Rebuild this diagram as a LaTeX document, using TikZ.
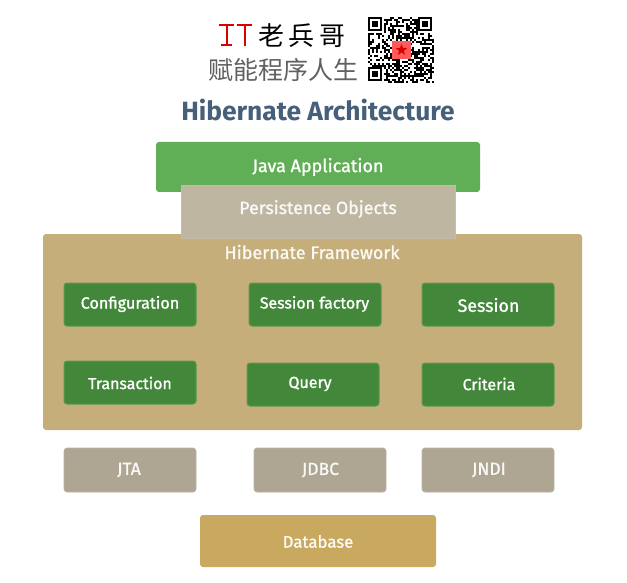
\documentclass[tikz,border=0pt]{standalone}
\usepackage{fontspec}
\usetikzlibrary{shapes.geometric}
\setmainfont{Fira Sans}
\newfontfamily\cjk{Noto Sans CJK SC}
\newfontfamily\lblf[FakeBold=1.2]{Fira Sans}
\definecolor{appgreen}{HTML}{60AE55}
\definecolor{persist}{HTML}{BFB6A1}
\definecolor{frame}{HTML}{C5AE7A}
\definecolor{inner}{HTML}{42873A}
\definecolor{innerb}{HTML}{5B9A4E}
\definecolor{lib}{HTML}{AEA693}
\definecolor{dbc}{HTML}{C9A85F}
\definecolor{titlec}{HTML}{47607A}
\newcommand{\fs}[1]{\lblf\fontsize{#1}{20}\selectfont}
\tikzset{
 px/.style={x=1pt,y=-1pt},
 lbl/.style={text=white},
 comp/.style={fill=inner,draw=innerb,line width=1pt,rounded corners=3pt},
 libbox/.style={fill=lib,draw=lib!85!white,line width=.6pt,rounded corners=3pt},
}
\begin{document}
\begin{tikzpicture}[px]
\useasboundingbox (0,0) rectangle (627,583);
\fill[white] (0,0) rectangle (627,583);
% header
\draw[red!85!black,line width=2pt] (219,25.5)--(234,25.5) (221,45.5)--(232,45.5) (226.5,25.5)--(226.5,45.5) (237,25.5)--(252,25.5) (244.5,25.5)--(244.5,46);
\node[inner sep=0pt,font=\cjk\fontsize{26}{27}\selectfont,text=black] (brand) at (302,36) {老\hspace{5pt}兵\hspace{5pt}哥};
\node[inner sep=0pt,font=\cjk\fontsize{25}{27}\selectfont,text=black!62] (slogan) at (283,70) {赋能程序人生};
% QR
\begin{scope}[shift={(368,17)}]
\pgfmathsetseed{4242}
\foreach \i in {0,...,32}{\foreach \j in {0,...,32}{
  \pgfmathparse{rnd<0.52?1:0}
  \ifnum\pgfmathresult=1 \fill[black] (\i*2,\j*2) rectangle ++(2,2);\fi
}}
\foreach \a/\b in {0/0,50/0,0/50}{
 \fill[white] (\a,\b) rectangle ++(16,16);
 \fill[black] (\a,\b) rectangle ++(14,14);
 \fill[white] (\a+2,\b+2) rectangle ++(10,10);
 \fill[black] (\a+4,\b+4) rectangle ++(6,6);
}
\fill[red!65!white] (24,24) rectangle (43,42);
\node[star,star points=5,star point ratio=2.4,fill=red!85!black,inner sep=0pt,minimum size=12pt] (qrstar) at (33.5,33) {};
\end{scope}
% title
\node[inner sep=0pt,font=\bfseries\fontsize{26.4}{30}\selectfont,text=titlec] (title) at (318,110) {Hibernate Architecture};
% java
\path[fill=appgreen,rounded corners=3pt] (156,142) rectangle (480,192);
\node[lbl,font=\fs{18}] (java) at (318,167) {Java Application};
% framework
\path[fill=frame,rounded corners=3pt] (43,234) rectangle (582,430);
\path[fill=persist,draw=persist!90!white,line width=.5pt] (181.5,185) rectangle (455,238);
\node[lbl,font=\fs{17.8},text=white!92!persist] (persistence) at (318,209) {Persistence Objects};
\node[lbl,font=\fs{18},text=white!92!frame] (framework) at (312,252) {Hibernate Framework};
% components
\foreach \n/\x/\y/\a/\b/\c/\d/\t/\s in {
 cfg/130/304/64/283/196/326/Configuration/16.2,
 fac/314.5/304/249/283/381/326/Session factory/15.9,
 ses/488.5/305/422/283/554/326/Session/17.8,
 trn/130/383/64/361/196/404/Transaction/15.9,
 qry/310/384/247/363/379/406/Query/16,
 cri/489/384/422/363/554/406/Criteria/15.9}{
 \path[comp] (\a,\b) rectangle (\c,\d);
 \node[lbl,font=\fs{\s}] (\n) at (\x,\y) {\t};
}
% libs
\foreach \n/\a/\x/\t/\s in {jta/64/129/JTA/17.5,jdbc/254/320.5/JDBC/17.5,jndi/422/489/JNDI/17.5}{
 \path[libbox] (\a,448) rectangle (\a+132,492);
 \node[lbl,font=\fs{\s},text=white!92!lib] (\n) at (\x,470) {\t};
}
% db
\path[fill=dbc,rounded corners=3pt] (200,515) rectangle (436,567);
\node[lbl,font=\fs{16.8},text=white!95!dbc] (db) at (318,541.5) {Database};
\end{tikzpicture}
\end{document}
